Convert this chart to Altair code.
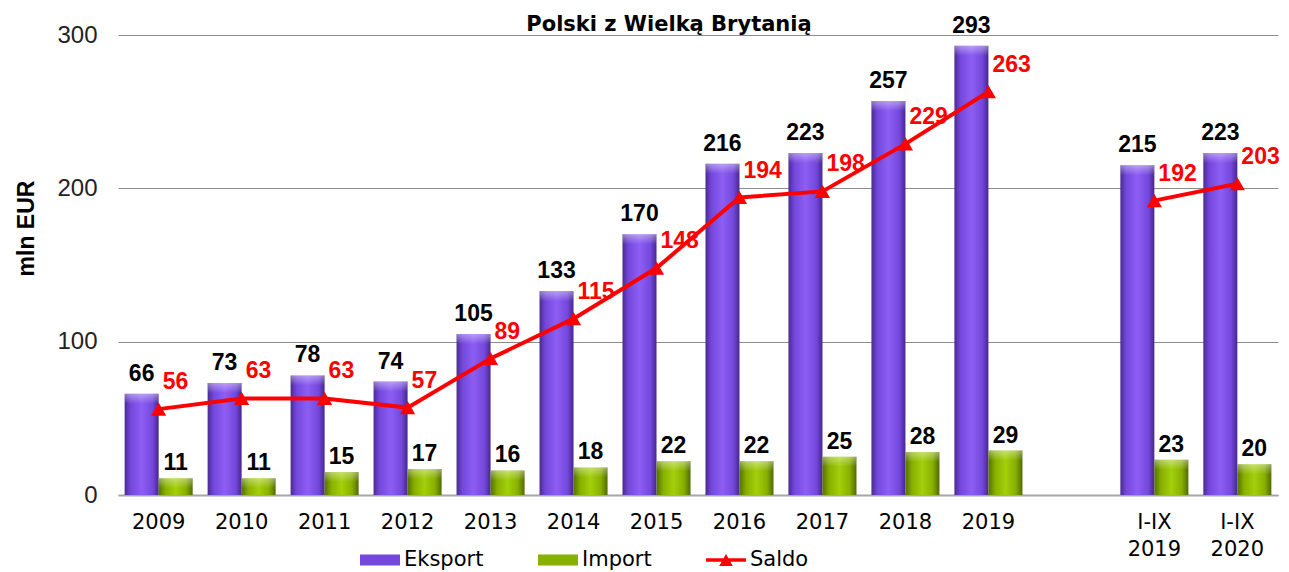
import altair as alt
import pandas as pd

periods = ["2009", "2010", "2011", "2012", "2013", "2014", "2015", "2016",
           "2017", "2018", "2019", "I-IX 2019", "I-IX 2020"]
eksport = [66, 73, 78, 74, 105, 133, 170, 216, 223, 257, 293, 215, 223]
import_vals = [11, 11, 15, 17, 16, 18, 22, 22, 25, 28, 29, 23, 20]
saldo = [56, 63, 63, 57, 89, 115, 148, 194, 198, 229, 263, 192, 203]
series_names = ["Eksport", "Import", "Saldo"]
y_ticks = [0, 100, 200, 300]

domain = periods[:11] + ["gap"] + periods[11:]

bars = pd.DataFrame({
    "cat": periods * 2,
    "series": ["Eksport"] * len(periods) + ["Import"] * len(periods),
    "value": eksport + import_vals,
})
line_df = pd.DataFrame({
    "cat": periods,
    "value": saldo,
    "seg": ["B" if p.startswith("I-IX") else "A" for p in periods],
})
legend_df = pd.DataFrame({"series": series_names})

grad_purple = alt.Gradient(
    gradient="linear", x1=0, x2=1, y1=0, y2=0,
    stops=[alt.GradientStop(color="#4a2a94", offset=0),
           alt.GradientStop(color="#7448dc", offset=0.18),
           alt.GradientStop(color="#8d5ef4", offset=0.5),
           alt.GradientStop(color="#7448dc", offset=0.82),
           alt.GradientStop(color="#46278c", offset=1)])
grad_green = alt.Gradient(
    gradient="linear", x1=0, x2=1, y1=0, y2=0,
    stops=[alt.GradientStop(color="#557000", offset=0),
           alt.GradientStop(color="#88b000", offset=0.2),
           alt.GradientStop(color="#a2cf0c", offset=0.5),
           alt.GradientStop(color="#88b000", offset=0.8),
           alt.GradientStop(color="#506a00", offset=1)])
grad_cap = alt.Gradient(
    gradient="linear", x1=0, x2=0, y1=0, y2=1,
    stops=[alt.GradientStop(color="rgba(255,255,255,0.40)", offset=0),
           alt.GradientStop(color="rgba(255,255,255,0.0)", offset=1)])

x = alt.X("cat:N",
          scale=alt.Scale(domain=domain, paddingInner=0.18, paddingOuter=0.08),
          axis=alt.Axis(title=None,
                        labelExpr="datum.label == 'gap' ? '' : split(datum.label, ' ')",
                        labelAngle=0, ticks=False, grid=False,
                        domainColor="#a6a6a6", domainWidth=2,
                        labelFont="DejaVu Sans", labelFontSize=21, labelColor="black",
                        labelPadding=16, labelLineHeight=27, labelBaseline="top"))
y = alt.Y("value:Q",
          scale=alt.Scale(domain=[0, 300], nice=False),
          axis=alt.Axis(values=y_ticks, title="mln EUR",
                        titleFont="Liberation Sans", titleFontSize=23,
                        titleFontWeight="bold", titleColor="black",
                        titleAngle=-90, titleX=-85, titleY=193,
                        titleBaseline="alphabetic", titleAlign="center",
                        labelFont="Liberation Sans", labelFontSize=24,
                        labelColor="#222222", labelPadding=21,
                        ticks=False, domain=False,
                        gridColor="#8c8c8c", gridWidth=1))
xo = alt.XOffset("series:N", scale=alt.Scale(domain=["Eksport", "Import"]))

base = alt.Chart(bars)

exp_bar = base.transform_filter("datum.series == 'Eksport'").mark_bar(
    color=grad_purple).encode(x=x, xOffset=xo, y=y)
imp_bar = base.transform_filter("datum.series == 'Import'").mark_bar(
    color=grad_green).encode(x=x, xOffset=xo, y=y)
cap = base.mark_bar(color=grad_cap, y2Offset=10).encode(
    x=x, xOffset=xo, y=y, y2="value:Q")

lbl = dict(font="Liberation Sans", fontWeight="bold", fontSize=23,
           baseline="alphabetic", color="black")
exp_txt = base.transform_filter("datum.series == 'Eksport'").mark_text(
    dy=-13, **lbl).encode(x=x, xOffset=xo, y=y, text="value:Q")
imp_txt = base.transform_filter("datum.series == 'Import'").mark_text(
    dy=-8, **lbl).encode(x=x, xOffset=xo, y=y, text="value:Q")

line = alt.Chart(line_df).mark_line(
    color="#ff0000", strokeWidth=4,
    point=alt.OverlayMarkDef(shape="triangle-up", size=230, filled=True,
                             color="#ff0000", opacity=1)
).encode(x=x, y=y, detail="seg:N")
saldo_txt = alt.Chart(line_df).mark_text(
    font="Liberation Sans", fontWeight="bold", fontSize=23,
    baseline="alphabetic", align="left", dx=4, dy=-20, color="#ff0000"
).encode(x=x, y=y, text="value:Q")

rect_path = "M-1,-0.28H1V0.28H-1Z"
saldo_path = "M-1,-0.09H1V0.09H-1Z M-0.34,0.3L0,-0.3L0.34,0.3Z"
leg = alt.Legend(title=None, orient="none", legendX=242, legendY=505,
                 direction="horizontal", symbolSize=1600, symbolStrokeWidth=0,
                 symbolOpacity=1, labelFont="DejaVu Sans", labelFontSize=21,
                 labelColor="black", columnPadding=54, labelOffset=4, padding=0)
dummy = alt.Chart(legend_df).transform_filter("false").mark_point(
    filled=True, opacity=1).encode(
    color=alt.Color("series:N",
                    scale=alt.Scale(domain=series_names,
                                    range=["#7448dc", "#88b000", "#ff0000"]),
                    legend=leg),
    shape=alt.Shape("series:N",
                    scale=alt.Scale(domain=series_names,
                                    range=[rect_path, rect_path, saldo_path]),
                    legend=leg),
)

chart = alt.layer(exp_bar, imp_bar, cap, line, exp_txt, imp_txt, saldo_txt, dummy).properties(
    width=1160, height=460,
    autosize=alt.AutoSizeParams(type="none"),
    padding={"left": 110, "top": 27, "right": 3, "bottom": 77},
    title=alt.TitleParams("Polski z Wielką Brytanią", font="DejaVu Sans",
                          fontSize=21, fontWeight="bold", color="black",
                          anchor="middle", frame="group", offset=-20, dx=-29),
).configure_view(stroke=None)

chart.save("out.html", embed_options={"renderer": "svg", "actions": False})
